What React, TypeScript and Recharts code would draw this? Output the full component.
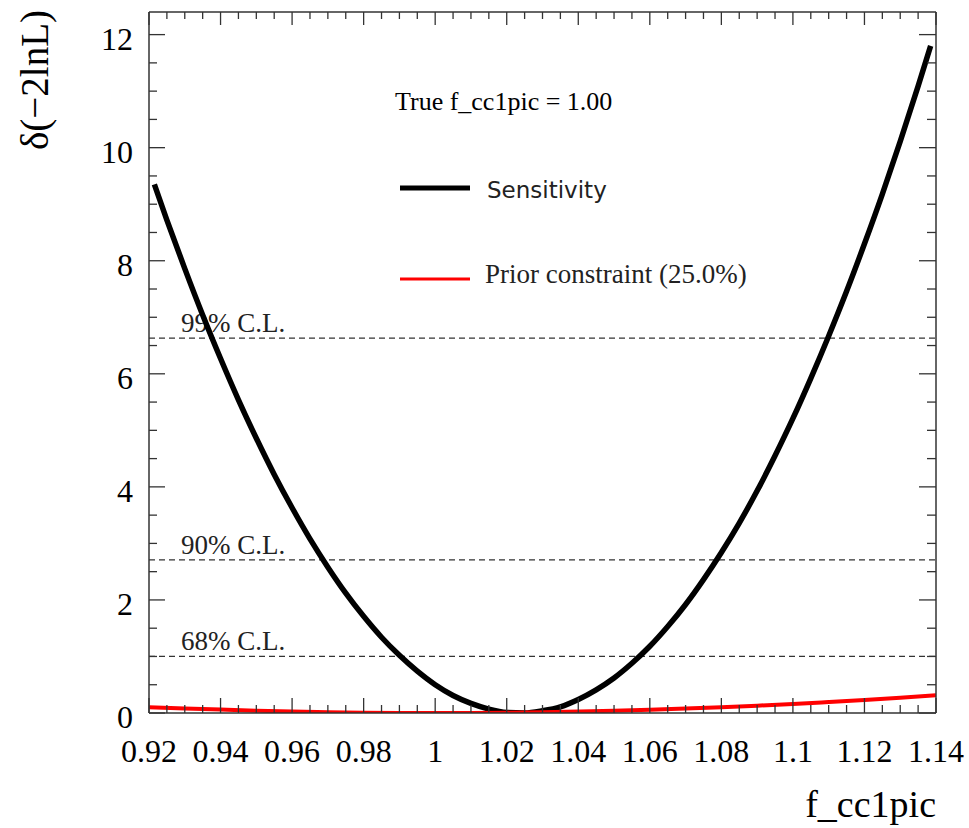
import React from 'react';
import { LineChart, Line, XAxis, YAxis, ReferenceLine, Legend, Label } from 'recharts';

// f_cc1pic scan values
const scanX = [
  0.9215, 0.925, 0.93, 0.935, 0.94, 0.945, 0.95, 0.955, 0.96, 0.965, 0.97, 0.975, 0.98, 0.985, 0.99, 0.995,
  1.0, 1.005, 1.01, 1.015, 1.02, 1.025, 1.03, 1.035, 1.04, 1.045, 1.05, 1.055, 1.06, 1.065, 1.07, 1.075,
  1.08, 1.085, 1.09, 1.095, 1.1, 1.105, 1.11, 1.115, 1.12, 1.125, 1.13, 1.135, 1.1385,
];
const sensitivity = [
  9.35, 8.72, 7.86, 7.04, 6.27, 5.54, 4.86, 4.22, 3.63, 3.08, 2.58, 2.12, 1.71, 1.34, 1.02, 0.74,
  0.5, 0.31, 0.17, 0.07, 0.01, 0.0, 0.04, 0.11, 0.24, 0.41, 0.62, 0.88, 1.18, 1.53, 1.92, 2.36,
  2.84, 3.36, 3.93, 4.55, 5.21, 5.92, 6.67, 7.46, 8.3, 9.18, 10.11, 11.09, 11.8,
];

const priorX = [
  0.92, 0.93, 0.94, 0.95, 0.96, 0.97, 0.98, 0.99, 1.0, 1.01, 1.02, 1.03,
  1.04, 1.05, 1.06, 1.07, 1.08, 1.09, 1.1, 1.11, 1.12, 1.13, 1.14,
];
const prior = [
  0.1, 0.08, 0.06, 0.04, 0.026, 0.014, 0.006, 0.002, 0.0, 0.002, 0.006, 0.014,
  0.026, 0.04, 0.058, 0.078, 0.102, 0.13, 0.16, 0.194, 0.23, 0.27, 0.314,
];

const clLevels = [1.0, 2.71, 6.63];
const clNames = ['68% C.L.', '90% C.L.', '99% C.L.'];

const X_DOMAIN: [number, number] = [0.92, 1.14];
const Y_DOMAIN: [number, number] = [0, 12.4];
const xTicks = Array.from({ length: 45 }, (_, i) => +(0.92 + i * 0.005).toFixed(3));
const yTicks = Array.from({ length: 25 }, (_, i) => i * 0.5);

const sensData = scanX.map((x, i) => ({ x, y: sensitivity[i] }));
const priorData = priorX.map((x, i) => ({ x, y: prior[i] }));

const SERIF = '"Liberation Serif", "Times New Roman", serif';
const SANS = '"DejaVu Sans", sans-serif';
const AXIS = '#333';

const isMajorX = (v: number) => Math.abs(v * 50 - Math.round(v * 50)) < 1e-6;
const isMajorY = (v: number) => Math.abs(v / 2 - Math.round(v / 2)) < 1e-6;

const BottomTick = ({ x, y, payload }: any) => {
  const major = isMajorX(payload.value);
  return (
    <g>
      <line x1={x} y1={y} x2={x} y2={y - (major ? 15 : 8)} stroke={AXIS} strokeWidth={1.3} />
      {major && (
        <text x={x} y={y + 49} textAnchor="middle" fontFamily={SERIF} fontSize={32} fill="#000">
          {String(+payload.value.toFixed(2))}
        </text>
      )}
    </g>
  );
};

const TopTick = ({ x, y, payload }: any) => {
  const major = isMajorX(payload.value);
  return <line x1={x} y1={y} x2={x} y2={y + (major ? 13 : 7)} stroke={AXIS} strokeWidth={1.3} />;
};

const LeftTick = ({ x, y, payload }: any) => {
  const major = isMajorY(payload.value);
  return (
    <g>
      <line x1={x} y1={y} x2={x + (major ? 16 : 8)} y2={y} stroke={AXIS} strokeWidth={1.3} />
      {major && (
        <text x={x - 16} y={y + 15} textAnchor="end" fontFamily={SERIF} fontSize={32} fill="#000">
          {payload.value}
        </text>
      )}
    </g>
  );
};

const RightTick = ({ x, y, payload }: any) => {
  const major = isMajorY(payload.value);
  return <line x1={x} y1={y} x2={x - (major ? 17 : 9)} y2={y} stroke={AXIS} strokeWidth={1.3} />;
};

const ClLabel = ({ viewBox, text }: any) => (
  <text x={viewBox.x + 32} y={viewBox.y - 6} fontFamily={SERIF} fontSize={27} fill="#222">
    {text}
  </text>
);

// legend rows keyed by series name
const legendRows: Record<string, any> = {
  Sensitivity: { y: 118, ty: 128, w: 5, font: SANS, size: 23, tx: 117 },
  'Prior constraint (25.0%)': { y: 209, ty: 213, w: 3, font: SERIF, size: 27, tx: 115 },
};

const LegendBox = ({ payload }: any) => (
  <svg width={400} height={230}>
    <text x={25} y={40} fontFamily={SERIF} fontSize={26} fill="#000">True f_cc1pic = 1.00</text>
    {(payload || []).map((entry: any) => {
      const r = legendRows[entry.value];
      if (!r) return null;
      return (
        <g key={entry.value}>
          <line x1={30} y1={r.y} x2={100} y2={r.y} stroke={entry.color} strokeWidth={r.w} />
          <text x={r.tx} y={r.ty} fontFamily={r.font} fontSize={r.size} fill="#222">{entry.value}</text>
        </g>
      );
    })}
  </svg>
);

export default function App() {
  return (
    <div style={{ position: 'absolute', left: 0, top: 0, width: 969, height: 828, background: '#fff' }}>
      <LineChart width={969} height={828} margin={{ top: 0, right: 0, bottom: 0, left: 0 }}>
        <XAxis
          xAxisId="b"
          type="number"
          dataKey="x"
          domain={X_DOMAIN}
          allowDataOverflow
          ticks={xTicks}
          interval={0}
          height={115}
          tickSize={0}
          tickMargin={0}
          tickLine={false}
          axisLine={{ stroke: AXIS, strokeWidth: 1.5 }}
          tick={<BottomTick />}
        >
          <Label
            content={({ viewBox }: any) => (
              <text x={viewBox.x + viewBox.width} y={viewBox.y + 104} textAnchor="end" fontFamily={SERIF} fontSize={38} fill="#000">
                f_cc1pic
              </text>
            )}
          />
        </XAxis>
        <XAxis
          xAxisId="t"
          orientation="top"
          type="number"
          dataKey="x"
          domain={X_DOMAIN}
          allowDataOverflow
          ticks={xTicks}
          interval={0}
          height={12}
          tickSize={0}
          tickMargin={0}
          tickLine={false}
          axisLine={{ stroke: AXIS, strokeWidth: 1.5 }}
          tick={<TopTick />}
        />
        <YAxis
          yAxisId="l"
          type="number"
          domain={Y_DOMAIN}
          allowDataOverflow
          ticks={yTicks}
          interval={0}
          width={149}
          tickSize={0}
          tickMargin={0}
          tickLine={false}
          axisLine={{ stroke: AXIS, strokeWidth: 1.5 }}
          tick={<LeftTick />}
        >
          <Label
            content={({ viewBox }: any) => (
              <text
                x={48}
                y={viewBox.y - 2}
                transform={`rotate(-90, 48, ${viewBox.y - 2})`}
                textAnchor="end"
                fontFamily={SERIF}
                fontSize={39}
                fill="#000"
              >
                δ(−2lnL)
              </text>
            )}
          />
        </YAxis>
        <YAxis
          yAxisId="r"
          orientation="right"
          type="number"
          domain={Y_DOMAIN}
          allowDataOverflow
          ticks={yTicks}
          interval={0}
          width={33}
          tickSize={0}
          tickMargin={0}
          tickLine={false}
          axisLine={{ stroke: AXIS, strokeWidth: 1.5 }}
          tick={<RightTick />}
        />
        {clLevels.map((lv, i) => (
          <ReferenceLine
            key={lv}
            xAxisId="b"
            yAxisId="l"
            y={lv}
            stroke="#333"
            strokeWidth={1.2}
            strokeDasharray="6 4"
            label={<ClLabel text={clNames[i]} />}
          />
        ))}
        <Line
          xAxisId="b"
          yAxisId="l"
          data={sensData}
          dataKey="y"
          name="Sensitivity"
          type="monotone"
          stroke="#000"
          strokeWidth={5.5}
          dot={false}
          isAnimationActive={false}
        />
        <Line
          xAxisId="b"
          yAxisId="l"
          data={priorData}
          dataKey="y"
          name="Prior constraint (25.0%)"
          type="monotone"
          stroke="#ff0000"
          strokeWidth={4}
          dot={false}
          isAnimationActive={false}
        />
        <Legend
          layout="vertical"
          align="center"
          verticalAlign="middle"
          content={<LegendBox />}
          wrapperStyle={{ left: 370, top: 70, width: 400, height: 230 }}
        />
      </LineChart>
    </div>
  );
}
